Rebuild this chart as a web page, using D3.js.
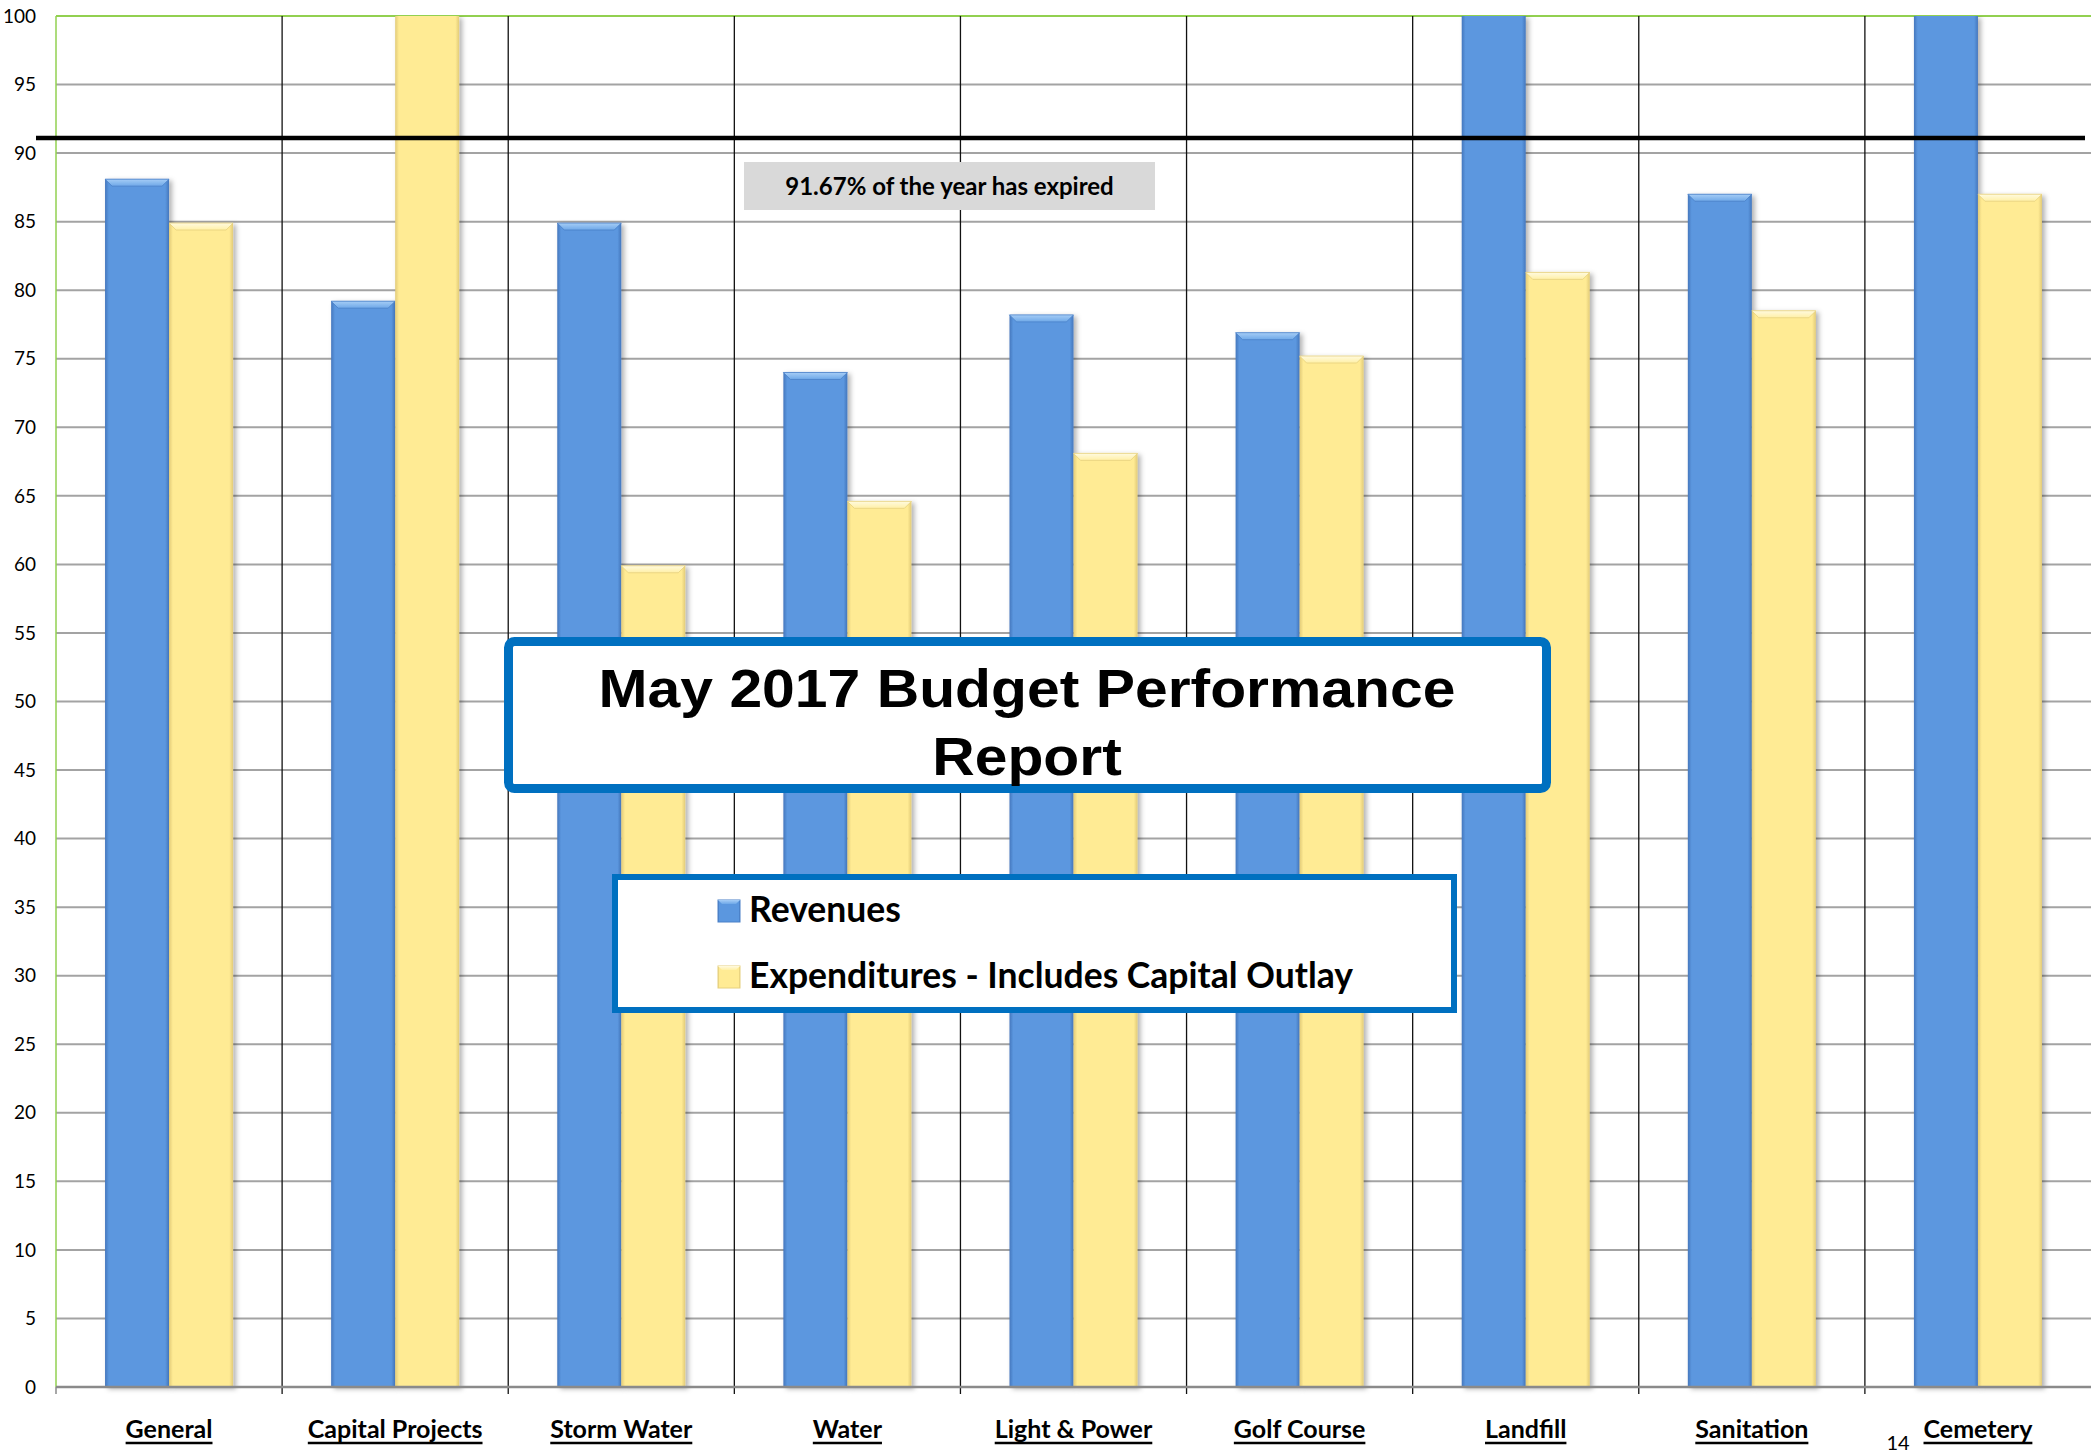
<!DOCTYPE html>
<html>
<head>
<meta charset="utf-8">
<title>May 2017 Budget Performance Report</title>
<script type="text/javascript" src="https://d3js.org/d3.v7.min.js"></script>
<style>
  body { margin:0; background:#fff; }
  svg { display:block; }
  .tick-label { font-family: Lato, "Open Sans", sans-serif; font-size:19px; fill:#000; }
  .cat-label { font-family: Lato, "Open Sans", sans-serif; font-size:25px; font-weight:700; fill:#000; }
</style>
</head>
<body>
<div id="chart"></div>
<script>
// data
var categories = ["General", "Capital Projects", "Storm Water", "Water", "Light & Power",
                  "Golf Course", "Landfill", "Sanitation", "Cemetery"];
var revenues = [88.1, 79.2, 84.9, 74.0, 78.2, 76.9, 112, 87.0, 108];
var expenditures = [84.9, 104, 59.9, 64.6, 68.1, 75.2, 81.3, 78.5, 87.0];
var seriesNames = ["Revenues", "Expenditures - Includes Capital Outlay"];
var yTicks = [0, 5, 10, 15, 20, 25, 30, 35, 40, 45, 50, 55, 60, 65, 70, 75, 80, 85, 90, 95, 100];
var expiredLevel = [91.1];
var expiredText = "91.67% of the year has expired";
var titleLines = ["May 2017 Budget Performance", "Report"];
var pageNumber = "14";

var W = 2091, H = 1453;
// plot edges (note: "top" is taken by window.top)
var plotL = 56, plotR = 2091, plotT = 16, plotB = 1387;

var svg = d3.select("#chart").append("svg")
    .attr("width", W).attr("height", H);

svg.append("rect").attr("width", W).attr("height", H).attr("fill", "#fff");

var defs = svg.append("defs");

function sideGrad(id, edge, mid) {
  var g = defs.append("linearGradient").attr("id", id)
      .attr("x1", "0").attr("x2", "1").attr("y1", "0").attr("y2", "0");
  g.append("stop").attr("offset", "0").attr("stop-color", edge);
  g.append("stop").attr("offset", "0.06").attr("stop-color", mid);
  g.append("stop").attr("offset", "0.94").attr("stop-color", mid);
  g.append("stop").attr("offset", "1").attr("stop-color", edge);
}
function topGrad(id, light, mid) {
  var g = defs.append("linearGradient").attr("id", id)
      .attr("x1", "0").attr("x2", "0").attr("y1", "0").attr("y2", "1");
  g.append("stop").attr("offset", "0").attr("stop-color", light);
  g.append("stop").attr("offset", "1").attr("stop-color", mid);
}
sideGrad("blueSide", "#4577bd", "#5b97df");
sideGrad("yellowSide", "#e2cb78", "#ffeb94");
topGrad("blueTop", "#a6cdf6", "#6ea8e8");
topGrad("yellowTop", "#fffae0", "#fff0a6");

var shadow = defs.append("filter").attr("id", "shadow")
    .attr("x", "-20%").attr("y", "-5%").attr("width", "140%").attr("height", "110%");
shadow.append("feDropShadow").attr("dx", 3).attr("dy", 2)
    .attr("stdDeviation", 2.5).attr("flood-color", "#000").attr("flood-opacity", 0.3);

defs.append("clipPath").attr("id", "plotClip")
  .append("rect").attr("x", plotL).attr("y", plotT).attr("width", plotR - plotL).attr("height", plotB - plotT + 10);

var y = d3.scaleLinear().domain([0, 100]).range([plotB, plotT]);
var x0 = d3.scaleBand().domain(categories).range([plotL, plotR]).padding(0);
var x1 = d3.scaleBand().domain([0, 1]).range([0, x0.bandwidth()]).paddingInner(0).paddingOuter(0.766);

// horizontal gridlines
svg.append("g").selectAll("line").data(yTicks.filter(function(d){ return d > 0; }))
  .enter().append("line")
    .attr("x1", plotL).attr("x2", plotR)
    .attr("y1", function(d){ return y(d); }).attr("y2", function(d){ return y(d); })
    .attr("stroke", function(d){ return d === 100 ? "#92d050" : "#a3a3a3"; })
    .attr("stroke-width", 2);

// category dividers
svg.append("g").selectAll("line").data(categories.slice(1))
  .enter().append("line")
    .attr("x1", function(d){ return x0(d); }).attr("x2", function(d){ return x0(d); })
    .attr("y1", plotT).attr("y2", plotB + 7)
    .attr("stroke", "#111").attr("stroke-width", 1.3);

// bars
var rows = categories.map(function(c, i){
  return {cat: c, vals: [revenues[i], expenditures[i]]};
});
var styles = [
  {side: "url(#blueSide)", top: "url(#blueTop)", edge: "#4a80c8"},
  {side: "url(#yellowSide)", top: "url(#yellowTop)", edge: "#e6d07e"}
];

var bars = svg.append("g").attr("clip-path", "url(#plotClip)")
  .selectAll("g").data(rows).enter().append("g")
    .attr("transform", function(d){ return "translate(" + x0(d.cat) + ",0)"; })
  .selectAll("g").data(function(d){ return d.vals.map(function(v, k){ return {v: v, k: k}; }); })
  .enter().append("g")
    .attr("filter", "url(#shadow)");

bars.append("rect")
    .attr("x", function(d){ return x1(d.k); })
    .attr("width", x1.bandwidth())
    .attr("y", function(d){ return y(Math.min(d.v, 100)); })
    .attr("height", function(d){ return plotB - y(Math.min(d.v, 100)); })
    .attr("fill", function(d){ return styles[d.k].side; });

// bevel on the tops that stay inside the plot
bars.filter(function(d){ return d.v < 100; }).append("path")
    .attr("d", function(d){
      var xa = x1(d.k), w = x1.bandwidth(), yt = y(d.v), b = 7;
      return "M" + xa + "," + yt + "L" + (xa + w) + "," + yt +
             "L" + (xa + w - b) + "," + (yt + b) + "L" + (xa + b) + "," + (yt + b) + "Z";
    })
    .attr("fill", function(d){ return styles[d.k].top; })
    .attr("stroke", function(d){ return styles[d.k].edge; })
    .attr("stroke-width", 0.8);

// axes
svg.append("line").attr("x1", plotL).attr("x2", plotL).attr("y1", plotT).attr("y2", plotB)
    .attr("stroke", "#92d050").attr("stroke-width", 1.5);
svg.append("line").attr("x1", plotL).attr("x2", plotR).attr("y1", plotB).attr("y2", plotB)
    .attr("stroke", "#8a8a8a").attr("stroke-width", 2.5);
svg.append("line").attr("x1", plotL).attr("x2", plotL).attr("y1", plotB).attr("y2", plotB + 7)
    .attr("stroke", "#8a8a8a").attr("stroke-width", 1.5);

// y tick labels
svg.append("g").selectAll("text").data(yTicks).enter().append("text")
    .attr("class", "tick-label")
    .attr("x", 36).attr("y", function(d){ return y(d); })
    .attr("dy", "0.35em").attr("text-anchor", "end")
    .text(function(d){ return d; });

// category labels, underlined
var catLabels = svg.append("g").selectAll("g").data(categories).enter().append("g")
    .attr("transform", function(d){ return "translate(" + (x0(d) + x0.bandwidth() / 2) + ",1438)"; });
catLabels.append("text").attr("class", "cat-label")
    .attr("text-anchor", "middle")
    .text(function(d){ return d; });
catLabels.each(function(){
  var g = d3.select(this);
  var w = g.select("text").node().getComputedTextLength();
  g.append("line").attr("x1", -w / 2).attr("x2", w / 2).attr("y1", 5).attr("y2", 5)
    .attr("stroke", "#000").attr("stroke-width", 2.4);
});

svg.append("text").attr("x", 1898).attr("y", 1450).attr("text-anchor", "middle")
    .style("font-family", "Lato, sans-serif").style("font-size", "20px")
    .text(pageNumber);

// expired line
svg.append("g").selectAll("line").data(expiredLevel).enter().append("line")
    .attr("x1", 36).attr("x2", 2085)
    .attr("y1", function(d){ return y(d); }).attr("y2", function(d){ return y(d); })
    .attr("stroke", "#000").attr("stroke-width", 4.5);

svg.append("rect").attr("x", 744).attr("y", 162).attr("width", 411).attr("height", 48)
    .attr("fill", "#d9d9d9");
svg.append("text").attr("x", 949.5).attr("y", 195).attr("text-anchor", "middle")
    .style("font-family", "Lato, sans-serif").style("font-size", "24px").style("font-weight", "700")
    .text(expiredText);

// title box
svg.append("rect").attr("x", 508.5).attr("y", 641.5).attr("width", 1038).attr("height", 147)
    .attr("rx", 6).attr("fill", "#fff").attr("stroke", "#0070c0").attr("stroke-width", 9);
svg.append("g").selectAll("text").data(titleLines).enter().append("text")
    .attr("transform", function(d, i){ return "translate(1027," + (707 + i * 68) + ") scale(1.09,1)"; })
    .attr("text-anchor", "middle")
    .style("font-family", "'Liberation Sans', Arial, sans-serif")
    .style("font-size", "54px").style("font-weight", "700")
    .text(function(d){ return d; });

// legend
svg.append("rect").attr("x", 615).attr("y", 877).attr("width", 839).attr("height", 133)
    .attr("fill", "#fff").attr("stroke", "#0070c0").attr("stroke-width", 6);
var leg = svg.append("g").selectAll("g").data(seriesNames).enter().append("g")
    .attr("transform", function(d, i){ return "translate(718," + (922 + i * 66) + ")"; });
leg.append("rect").attr("x", 0).attr("y", -22).attr("width", 22).attr("height", 22)
    .attr("fill", function(d, i){ return styles[i].side; })
    .attr("stroke", function(d, i){ return styles[i].edge; }).attr("stroke-width", 1);
leg.append("path")
    .attr("d", "M0,-22L22,-22L18,-18L4,-18Z")
    .attr("fill", function(d, i){ return styles[i].top; });
leg.append("text").attr("transform", "translate(31,0) scale(0.96,1)")
    .style("font-family", "Lato, sans-serif").style("font-size", "37px").style("font-weight", "700")
    .text(function(d){ return d; });
</script>
</body>
</html>
